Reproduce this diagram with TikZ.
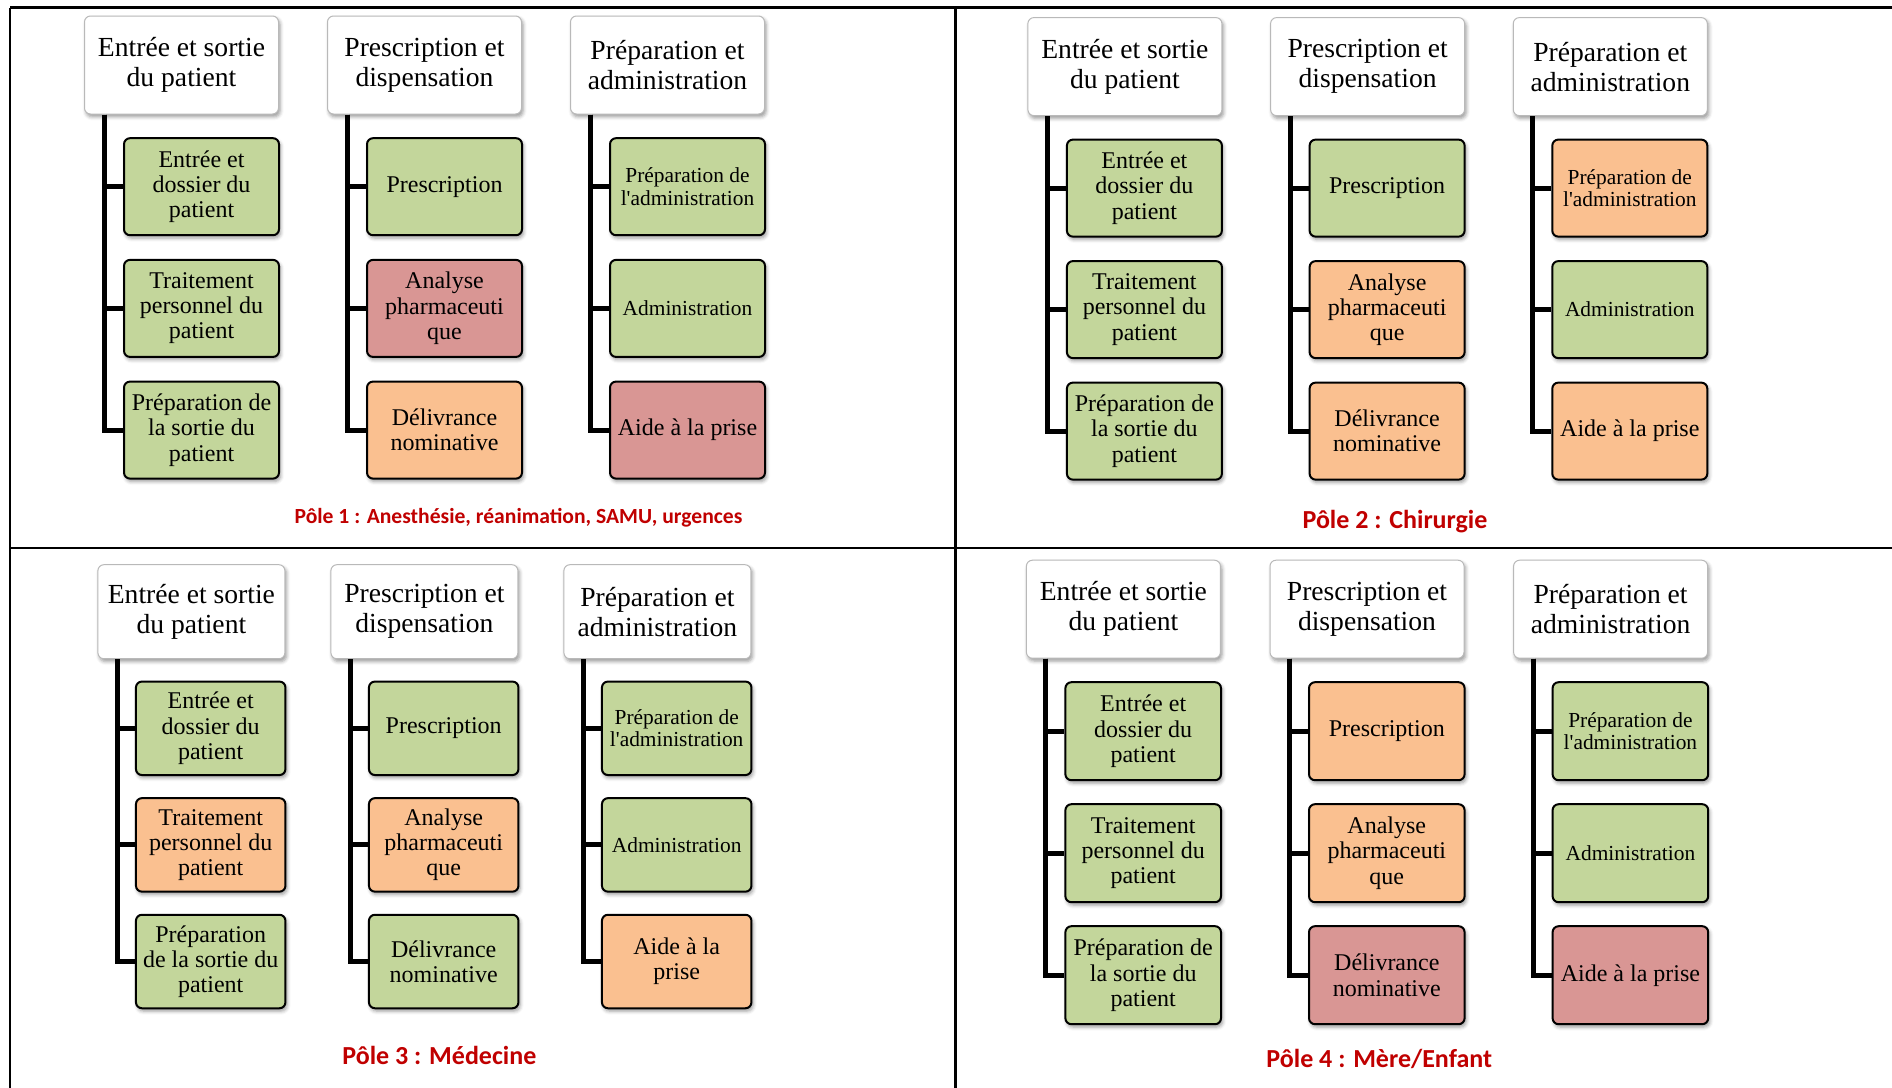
\documentclass[tikz,border=0pt]{standalone}
\usepackage{fontspec}
\setmainfont{Liberation Serif}[Ligatures={TeX,NoCommon}]
\newfontfamily\calibri{Carlito}
\usetikzlibrary{shadows.blur}
\definecolor{vert}{HTML}{C3D69B}
\definecolor{rose}{HTML}{D99694}
\definecolor{abricot}{HTML}{FAC090}
\definecolor{rougetitre}{HTML}{C00000}

\begin{document}
\begin{tikzpicture}[x=0.5pt, y=-0.5pt,
    tete/.style={draw=gray!55, line width=0.5pt, fill=white, rounded corners=3pt, align=center,
      minimum width=97pt, minimum height=49pt, inner sep=2pt, font=\fontsize{13.8}{15}\selectfont,
      blur shadow={shadow xshift=0.8pt, shadow yshift=-1.4pt, shadow blur radius=1.8pt}},
    case/.style={draw, line width=1pt, rounded corners=3pt, align=center,
      minimum width=77.5pt, minimum height=48.5pt, inner sep=2pt,
      blur shadow={shadow xshift=0.8pt, shadow yshift=-1.4pt, shadow blur radius=1.8pt}},
    tronc/.style={line width=2.5pt},
    titre/.style={anchor=base, text=rougetitre, font=\calibri\bfseries\fontsize{13}{15}\selectfont},
    cadre/.style={line width=1.3pt}]
  \useasboundingbox (0,0) rectangle (1892,1088);

  % table lines
  \draw[cadre] (10,7.5) -- (1892,7.5);
  \draw[cadre] (10,7.5) -- (10,1088);
  \draw[cadre] (10,548) -- (1892,548);
  \draw[cadre] (955.7,7.5) -- (955.7,1088);

  % Pole 1
  \begin{scope}[shift={(181.5,65)}]
    \foreach \txt [count=\i] in {{Entrée et sortie\\du patient},{Prescription et\\dispensation},{Préparation et\\administration}}
      \node[tete] (p1h\i) at ({243*(\i-1)},0) {\txt};
    \foreach \col [count=\i] in {
        {{Entrée et\\dossier du\\patient}/vert/12, {Traitement\\personnel du\\patient}/vert/12, {Préparation de\\la sortie du\\patient}/vert/12},
        {Prescription/vert/12, {Analyse\\pharmaceuti\\que}/rose/12, {Délivrance\\nominative}/abricot/12},
        {{Préparation de\\l\textquotesingle administration}/vert/10.7, Administration/vert/10.7, {Aide à la prise}/rose/12}} {
      \foreach \txt/\cl/\fs [count=\j] in \col {
        \node[case, fill=\cl, font=\fontsize{\fs}{1.05\dimexpr\fs pt\relax}\selectfont] (p1c\i\j) at ({243*(\i-1)+20},{121.7*\j}) {\txt};
        \draw[tronc] ([xshift=10pt]p1h\i.south west) |- (p1c\i\j.west);
      }
    }
    \node[titre, font=\calibri\bfseries\fontsize{10.8}{13}\selectfont] (p1t) at (337,458.7) {Pôle 1 : Anesthésie, réanimation, SAMU, urgences};
  \end{scope}

  % Pole 2
  \begin{scope}[shift={(1124.9,66.6)}]
    \foreach \txt [count=\i] in {{Entrée et sortie\\du patient},{Prescription et\\dispensation},{Préparation et\\administration}}
      \node[tete] (p2h\i) at ({242.7*(\i-1)},0) {\txt};
    \foreach \col [count=\i] in {
        {{Entrée et\\dossier du\\patient}/vert/12, {Traitement\\personnel du\\patient}/vert/12, {Préparation de\\la sortie du\\patient}/vert/12},
        {Prescription/vert/12, {Analyse\\pharmaceuti\\que}/abricot/12, {Délivrance\\nominative}/abricot/12},
        {{Préparation de\\l\textquotesingle administration}/abricot/10.7, Administration/vert/10.7, {Aide à la prise}/abricot/12}} {
      \foreach \txt/\cl/\fs [count=\j] in \col {
        \node[case, fill=\cl, font=\fontsize{\fs}{1.05\dimexpr\fs pt\relax}\selectfont] (p2c\i\j) at ({242.7*(\i-1)+19.5},{121.5*\j}) {\txt};
        \draw[tronc] ([xshift=10pt]p2h\i.south west) |- (p2c\i\j.west);
      }
    }
    \node[titre] (p2t) at (270.1,461.7) {Pôle 2 : Chirurgie};
  \end{scope}

  % Pole 3
  \begin{scope}[shift={(191.4,611.7)},
      tete/.append style={minimum width=93.5pt, minimum height=47pt},
      case/.append style={minimum width=74.75pt, minimum height=46.75pt}]
    \foreach \txt [count=\i] in {{Entrée et sortie\\du patient},{Prescription et\\dispensation},{Préparation et\\administration}}
      \node[tete] (p3h\i) at ({233*(\i-1)},0) {\txt};
    \foreach \col [count=\i] in {
        {{Entrée et\\dossier du\\patient}/vert/12, {Traitement\\personnel du\\patient}/abricot/12, {Préparation\\de la sortie du\\patient}/vert/12},
        {Prescription/vert/12, {Analyse\\pharmaceuti\\que}/abricot/12, {Délivrance\\nominative}/vert/12},
        {{Préparation de\\l\textquotesingle administration}/vert/10.7, Administration/vert/10.7, {Aide à la\\prise}/abricot/12}} {
      \foreach \txt/\cl/\fs [count=\j] in \col {
        \node[case, fill=\cl, font=\fontsize{\fs}{1.05\dimexpr\fs pt\relax}\selectfont] (p3c\i\j) at ({233*(\i-1)+19.3},{116.6*\j}) {\txt};
        \draw[tronc] ([xshift=10pt]p3h\i.south west) |- (p3c\i\j.west);
      }
    }
    \node[titre] (p3t) at (248,452.3) {Pôle 3 : Médecine};
  \end{scope}

  % Pole 4
  \begin{scope}[shift={(1123.4,609.2)}, case/.append style={minimum width=77.8pt, minimum height=49pt}]
    \foreach \txt [count=\i] in {{Entrée et sortie\\du patient},{Prescription et\\dispensation},{Préparation et\\administration}}
      \node[tete] (p4h\i) at ({243.6*(\i-1)},0) {\txt};
    \foreach \col [count=\i] in {
        {{Entrée et\\dossier du\\patient}/vert/12, {Traitement\\personnel du\\patient}/vert/12, {Préparation de\\la sortie du\\patient}/vert/12},
        {Prescription/abricot/12, {Analyse\\pharmaceuti\\que}/abricot/12, {Délivrance\\nominative}/rose/12},
        {{Préparation de\\l\textquotesingle administration}/vert/10.7, Administration/vert/10.7, {Aide à la prise}/rose/12}} {
      \foreach \txt/\cl/\fs [count=\j] in \col {
        \node[case, fill=\cl, font=\fontsize{\fs}{1.05\dimexpr\fs pt\relax}\selectfont] (p4c\i\j) at ({243.6*(\i-1)+19.8},{122*\j}) {\txt};
        \draw[tronc] ([xshift=10pt]p4h\i.south west) |- (p4c\i\j.west);
      }
    }
    \node[titre] (p4t) at (255.9,458.6) {Pôle 4 : Mère/Enfant};
  \end{scope}
\end{tikzpicture}
\end{document}
